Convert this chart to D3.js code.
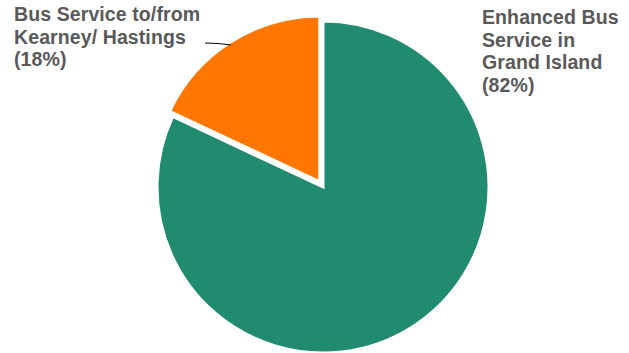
<!DOCTYPE html>
<html>
<head>
<meta charset="utf-8">
<script src="https://cdn.jsdelivr.net/npm/d3@7"></script>
<style>
  body { margin: 0; background: #fff; }
  text { font-family: "Liberation Sans", Arial, sans-serif; font-weight: bold; fill: #595959; }
</style>
</head>
<body>
<div id="chart"></div>
<script>
var categories = ["Enhanced Bus Service in Grand Island", "Bus Service to/from Kearney/ Hastings"];
var values = [82, 18];
var colors = ["#218B70", "#FF7700"];

var width = 629,
    height = 353;
var cx = 323, cy = 187, radius = 166;

var svg = d3.select("#chart")
    .append("svg")
    .attr("width", width)
    .attr("height", height);

var pie = d3.pie().sort(null).value(function(d) { return d; });
var arcs = pie(values);
var arc = d3.arc().innerRadius(0).outerRadius(radius);

var g = svg.append("g").attr("transform", "translate(" + cx + "," + cy + ")");

// the small slice is pulled out a bit
var explode = [0, 6];

g.selectAll("path")
    .data(arcs)
    .enter().append("path")
    .attr("d", arc)
    .attr("fill", function(d, i) { return colors[i]; })
    .attr("stroke", "#fff")
    .attr("stroke-width", 3)
    .attr("stroke-linejoin", "miter")
    .attr("transform", function(d, i) {
        var a = (d.startAngle + d.endAngle) / 2;
        return "translate(" + (Math.sin(a) * explode[i]) + "," + (-Math.cos(a) * explode[i]) + ")";
    });

// labels
var labelLines = [
    ["Enhanced Bus", "Service in", "Grand Island", "(82%)"],
    ["Bus Service to/from", "Kearney/ Hastings", "(18%)"]
];
var labelPos = [[482, 24], [14, 21]];

labelLines.forEach(function(lines, i) {
    var t = svg.append("text")
        .attr("x", labelPos[i][0])
        .attr("y", labelPos[i][1])
        .style("font-size", "19.5px")
        .style("letter-spacing", "0.1px");
    lines.forEach(function(l, j) {
        t.append("tspan")
            .attr("x", labelPos[i][0])
            .attr("dy", j == 0 ? 0 : 22.6)
            .text(l);
    });
});

// leader line for the small slice
svg.append("path")
    .attr("d", "M205,43 Q218,43 231,45")
    .attr("fill", "none")
    .attr("stroke", "#000")
    .attr("stroke-width", 1);
</script>
</body>
</html>
